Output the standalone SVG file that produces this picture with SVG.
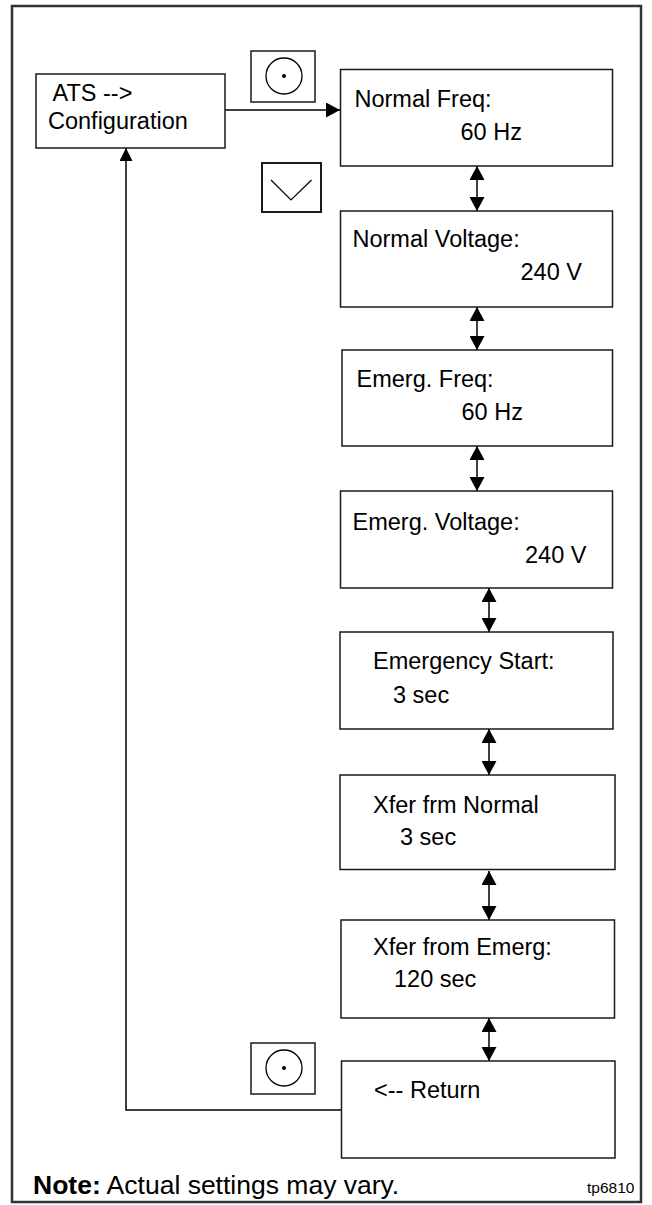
<svg xmlns="http://www.w3.org/2000/svg" width="652" height="1205" viewBox="0 0 652 1205">
<style>
.box{fill:#fff;stroke:#1a1a1a;stroke-width:1.5}
.btn{fill:#fff;stroke:#1a1a1a;stroke-width:1.5}
.t{font-family:"Liberation Sans",Arial,sans-serif;font-size:23.5px;fill:#000}
.ln{stroke:#000;stroke-width:1.5;fill:none}
</style>
<defs>
<marker id="ah" markerUnits="userSpaceOnUse" markerWidth="15" markerHeight="15" viewBox="0 0 14 15" refX="14" refY="7.5" orient="auto-start-reverse">
<path d="M0,0 L14,7.5 L0,15 z" fill="#000"/>
</marker>
<marker id="ahs" markerUnits="userSpaceOnUse" markerWidth="13" markerHeight="13" viewBox="0 0 12 12" refX="12" refY="6" orient="auto">
<path d="M0,0 L12,6 L0,12 z" fill="#000"/>
</marker>
</defs>
<rect x="12" y="6" width="629" height="1196" fill="#fff" stroke="#333" stroke-width="2.5"/>

<g id="connectors">
<line class="ln" x1="225" y1="110" x2="340" y2="110" marker-end="url(#ah)"/>
<polyline class="ln" points="341,1110 126,1110 126,148" marker-end="url(#ahs)"/>
<line class="ln" x1="477" y1="166" x2="477" y2="211" marker-start="url(#ah)" marker-end="url(#ah)"/>
<line class="ln" x1="477" y1="307" x2="477" y2="350" marker-start="url(#ah)" marker-end="url(#ah)"/>
<line class="ln" x1="477" y1="446" x2="477" y2="491" marker-start="url(#ah)" marker-end="url(#ah)"/>
<line class="ln" x1="489" y1="588" x2="489" y2="632" marker-start="url(#ah)" marker-end="url(#ah)"/>
<line class="ln" x1="489" y1="729" x2="489" y2="775" marker-start="url(#ah)" marker-end="url(#ah)"/>
<line class="ln" x1="489" y1="871" x2="489" y2="920" marker-start="url(#ah)" marker-end="url(#ah)"/>
<line class="ln" x1="489" y1="1018" x2="489" y2="1061" marker-start="url(#ah)" marker-end="url(#ah)"/>
</g>

<g id="btn-select-1">
<rect class="btn" x="251" y="51" width="64" height="51"/>
<circle cx="284" cy="76" r="18" fill="none" stroke="#000" stroke-width="1.3"/>
<circle cx="284" cy="76" r="2" fill="#000"/>
</g>
<g id="btn-down">
<rect x="262" y="163" width="59" height="49" fill="#fff" stroke="#1a1a1a" stroke-width="2"/>
<polyline points="271,180 291,200 311.5,180" fill="none" stroke="#000" stroke-width="1.2"/>
</g>
<g id="btn-select-2">
<rect class="btn" x="251" y="1043" width="64" height="51"/>
<circle cx="284" cy="1068" r="18" fill="none" stroke="#000" stroke-width="1.3"/>
<circle cx="284" cy="1068" r="2" fill="#000"/>
</g>

<g id="node-ats">
<rect class="box" x="36" y="74" width="189" height="74"/>
<text class="t" x="52.5" y="101">ATS --&gt;</text>
<text class="t" x="48" y="129">Configuration</text>
</g>
<g id="node-normal-freq">
<rect class="box" x="340.5" y="69.5" width="272" height="96.5"/>
<text class="t" x="354.5" y="107">Normal Freq:</text>
<text class="t" x="460.5" y="140">60 Hz</text>
</g>
<g id="node-normal-voltage">
<rect class="box" x="340.5" y="211" width="272" height="96"/>
<text class="t" x="352.5" y="247">Normal Voltage:</text>
<text class="t" x="520.5" y="280">240 V</text>
</g>
<g id="node-emerg-freq">
<rect class="box" x="342" y="350" width="270.5" height="96"/>
<text class="t" x="356.5" y="387">Emerg. Freq:</text>
<text class="t" x="461.5" y="420">60 Hz</text>
</g>
<g id="node-emerg-voltage">
<rect class="box" x="340.5" y="491" width="272" height="97"/>
<text class="t" x="352.5" y="529.5">Emerg. Voltage:</text>
<text class="t" x="525" y="563">240 V</text>
</g>
<g id="node-emergency-start">
<rect class="box" x="340" y="632" width="273" height="97"/>
<text class="t" x="373" y="669">Emergency Start:</text>
<text class="t" x="393" y="703">3 sec</text>
</g>
<g id="node-xfer-frm-normal">
<rect class="box" x="340" y="775" width="275" height="94.5"/>
<text class="t" x="373" y="813">Xfer frm Normal</text>
<text class="t" x="400" y="845">3 sec</text>
</g>
<g id="node-xfer-from-emerg">
<rect class="box" x="341" y="920" width="273.5" height="98"/>
<text class="t" x="373" y="955">Xfer from Emerg:</text>
<text class="t" x="394" y="987">120 sec</text>
</g>
<g id="node-return">
<rect class="box" x="341.5" y="1061" width="273.5" height="97"/>
<text class="t" x="374" y="1098">&lt;-- Return</text>
</g>

<text x="33" y="1194" font-family="'Liberation Sans',Arial,sans-serif" font-size="26.5px" fill="#000"><tspan font-weight="bold">Note:</tspan> Actual settings may vary.</text>
<text x="587" y="1192.5" font-family="'Liberation Sans',Arial,sans-serif" font-size="15.5px" fill="#000">tp6810</text>
</svg>
